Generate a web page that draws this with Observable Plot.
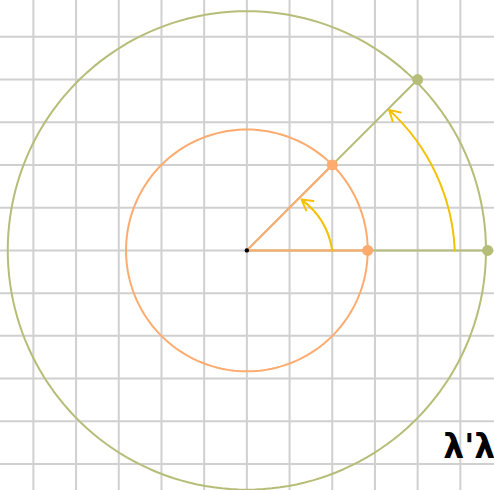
<!DOCTYPE html>
<html><head><meta charset="utf-8">
<script src="https://cdn.jsdelivr.net/npm/d3@7"></script>
<script src="https://cdn.jsdelivr.net/npm/@observablehq/plot@0.6"></script>
<style>body{margin:0;background:#fff}</style>
</head><body><div id="chart"></div>
<script>
// grid ticks (unit grid)
const gridTicks = [-5,-4,-3,-2,-1,0,1,2,3,4,5];
// circles
const circleNames = ["small","big"];
const circleRadii = [2.83, 5.6];
const circleColors = ["#fdab6e", "#b6bd78"];
// rays from origin
const rayNames = ["big","big","small","small"];
const rayX = [4, 5.64, 2, 2.83];
const rayY = [4, 0, 2, 0];
// points
const pointNames = ["big","big","small","small"];
const pointX = [4, 5.64, 2, 2.83];
const pointY = [4, 0, 2, 0];
// angle arrows
const arcX1 = [2.0, 4.87];
const arcY1 = [0, 0];
const arcX2 = [1.28, 3.33];
const arcY2 = [1.19, 3.29];
// label
const labelText = ["λ'λ"];
const labelX = [4.6];
const labelY = [-4.62];

const color = Object.fromEntries(circleNames.map((n,i)=>[n,circleColors[i]]));
const circlePts = circleNames.flatMap((n,i)=>d3.range(0,361,2).map(a=>({name:n,x:circleRadii[i]*Math.cos(a*Math.PI/180),y:circleRadii[i]*Math.sin(a*Math.PI/180)})));
const rays = rayNames.map((n,i)=>({name:n,x1:0,y1:0,x2:rayX[i],y2:rayY[i]}));
const pts = pointNames.map((n,i)=>({name:n,x:pointX[i],y:pointY[i]}));
const arcs = arcX1.map((v,i)=>({x1:v,y1:arcY1[i],x2:arcX2[i],y2:arcY2[i]}));

const chart = Plot.plot({
  width: 494, height: 490, margin: 0,
  x: {domain: [-5.77, 5.80], axis: null},
  y: {domain: [-5.62, 5.85], axis: null},
  marks: [
    Plot.gridX(gridTicks, {stroke: "#d0d0d0", strokeOpacity: 1, strokeWidth: 2}),
    Plot.gridY(gridTicks, {stroke: "#d0d0d0", strokeOpacity: 1, strokeWidth: 2}),
    Plot.line(circlePts.filter(d=>d.name==="big"), {x:"x", y:"y", stroke: color.big, strokeWidth: 2}),
    Plot.line(circlePts.filter(d=>d.name==="small"), {x:"x", y:"y", stroke: color.small, strokeWidth: 2}),
    Plot.link(rays.filter(d=>d.name==="big"), {x1:"x1",y1:"y1",x2:"x2",y2:"y2", stroke: color.big, strokeWidth: 2}),
    Plot.link(rays.filter(d=>d.name==="small"), {x1:"x1",y1:"y1",x2:"x2",y2:"y2", stroke: color.small, strokeWidth: 2}),
    Plot.arrow(arcs, {x1:"x1",y1:"y1",x2:"x2",y2:"y2", bend: -22.5, stroke: "#f5c000", strokeWidth: 2, headLength: 9}),
    Plot.dot(pts, {x:"x", y:"y", r: 5.5, fill: d=>color[d.name], stroke: "none"}),
    Plot.dot([{x:0,y:0}], {x:"x", y:"y", r: 2.2, fill: "black"}),
    Plot.text(labelText, {x: labelX, y: labelY, text: d=>d, textAnchor: "start", fontSize: 33, fontWeight: "600", fill: "black", fontFamily: "DejaVu Sans"})
  ]
});
document.getElementById("chart").append(chart);
</script></body></html>
